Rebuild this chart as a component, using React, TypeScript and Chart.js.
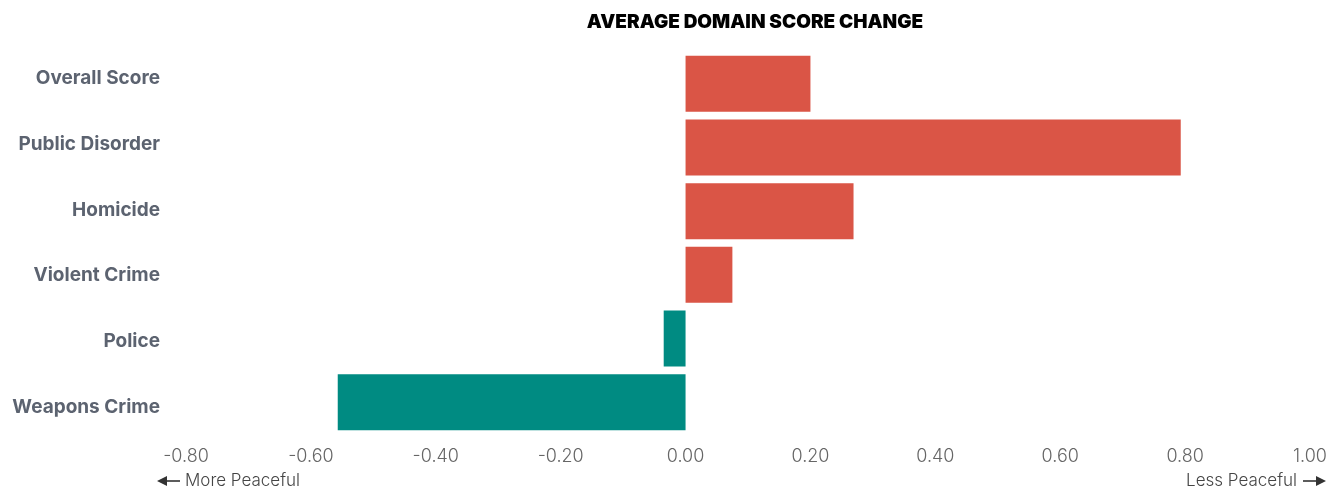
import React, { useEffect, useRef } from "react";
import { Chart, registerables } from "chart.js";

Chart.register(...registerables);

const categories = ["Overall Score", "Public Disorder", "Homicide", "Violent Crime", "Police", "Weapons Crime"];
const scoreChange = [0.2, 0.793, 0.269, 0.075, -0.035, -0.557];
const xTicks = [-0.8, -0.6, -0.4, -0.2, 0, 0.2, 0.4, 0.6, 0.8, 1.0];
const titleText = "AVERAGE DOMAIN SCORE CHANGE";
const leftNote = "More Peaceful";
const rightNote = "Less Peaceful";

const RED = "rgb(218,85,70)";
const TEAL = "rgb(0,139,130)";

function drawArrow(ctx: CanvasRenderingContext2D, x1: number, x2: number, y: number) {
  const dir = x2 > x1 ? 1 : -1;
  ctx.save();
  ctx.strokeStyle = "#333";
  ctx.fillStyle = "#333";
  ctx.lineWidth = 1.6;
  ctx.beginPath();
  ctx.moveTo(x1, y);
  ctx.lineTo(x2 - dir * 6, y);
  ctx.stroke();
  ctx.beginPath();
  ctx.moveTo(x2, y);
  ctx.lineTo(x2 - dir * 10, y - 5);
  ctx.lineTo(x2 - dir * 10, y + 5);
  ctx.closePath();
  ctx.fill();
  ctx.restore();
}

const annotations = {
  id: "annotations",
  afterDraw(chart: any) {
    const ctx = chart.ctx as CanvasRenderingContext2D;
    ctx.save();
    ctx.fillStyle = "#000";
    ctx.font = "900 19px Inter";
    ctx.textAlign = "center";
    ctx.textBaseline = "middle";
    ctx.fillText(titleText, 755, 22);

    ctx.font = "300 17px Inter";
    ctx.fillStyle = "#444";
    ctx.textAlign = "left";
    ctx.fillText(leftNote, 185, 481);
    drawArrow(ctx, 180, 157, 481);
    ctx.textAlign = "right";
    ctx.fillText(rightNote, 1297, 481);
    drawArrow(ctx, 1303, 1326, 481);
    ctx.restore();
  },
};

export default function App() {
  const ref = useRef<HTMLCanvasElement>(null);
  useEffect(() => {
    document.body.style.margin = "0";
    const chart = new Chart(ref.current!, {
      type: "bar",
      data: {
        labels: categories,
        datasets: [
          {
            data: scoreChange,
            backgroundColor: scoreChange.map((v) => (v >= 0 ? RED : TEAL)),
            borderWidth: 0,
            barPercentage: 0.88,
            categoryPercentage: 1,
          },
        ],
      },
      options: {
        indexAxis: "y",
        animation: false,
        responsive: true,
        maintainAspectRatio: false,
        layout: { padding: { top: 52, right: 21, bottom: 0, left: 0 } },
        plugins: { legend: { display: false }, tooltip: { enabled: false }, title: { display: false } },
        scales: {
          x: {
            min: -0.8,
            max: 1.0,
            afterBuildTicks: (scale: any) => {
              scale.ticks = xTicks.map((v) => ({ value: v }));
            },
            afterFit: (scale: any) => {
              scale.height = 54;
              scale.paddingLeft = 0;
              scale.paddingRight = 0;
            },
            grid: { display: false, drawTicks: false },
            border: { display: false },
            ticks: {
              padding: 12,
              color: "#666",
              font: { family: "Inter", size: 18, weight: "300" },
              callback: (v: any) => Number(v).toFixed(2),
              maxRotation: 0,
              autoSkip: false,
            },
          },
          y: {
            display: false,
          },
          yl: {
            type: "linear",
            position: "left",
            reverse: true,
            offset: false,
            min: -0.4,
            max: 5.405,
            afterBuildTicks: (scale: any) => {
              scale.ticks = categories.map((_, i) => ({ value: i }));
            },
            afterFit: (scale: any) => {
              scale.width = 186;
            },
            grid: { display: false, drawTicks: false, offset: false },
            border: { display: false },
            ticks: {
              padding: 26,
              color: "#5c6370",
              font: { family: "Inter", size: 19, weight: "bold" },
              callback: (v: any) => categories[Math.round(Number(v))] ?? "",
              autoSkip: false,
            },
          },
        },
      },
      plugins: [annotations],
    });
    return () => chart.destroy();
  }, []);
  return (
    <div style={{ width: 1331, height: 488, position: "relative" }}>
      <canvas ref={ref} />
    </div>
  );
}
